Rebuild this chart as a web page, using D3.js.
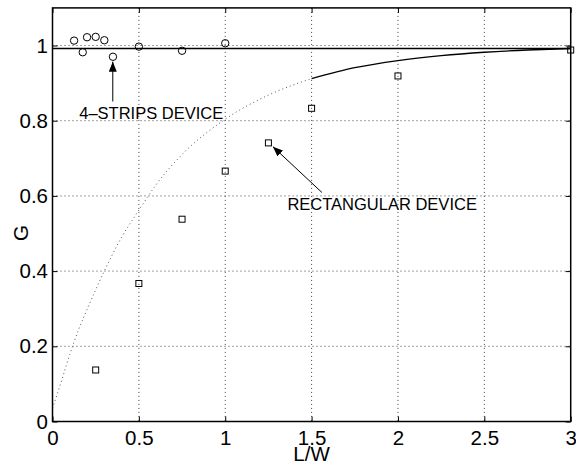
<!DOCTYPE html>
<html>
<head>
<meta charset="utf-8">
<script src="https://cdn.jsdelivr.net/npm/d3@7"></script>
<style>
  body { margin: 0; background: #fff; }
  text { font-family: "Liberation Sans", Arial, Helvetica, sans-serif; fill: #000; }
</style>
</head>
<body>
<div class="chart"></div>
<script>
let svgWidth = 576;
let svgHeight = 465;

let margin = { top: 7.9, right: 5.3, bottom: 43.5, left: 52.5 };
let width = svgWidth - margin.left - margin.right;
let height = svgHeight - margin.top - margin.bottom;

// data
let stripX = [0.125, 0.175, 0.2, 0.25, 0.3, 0.35, 0.5, 0.75, 1.0];
let stripG = [1.013, 0.982, 1.022, 1.023, 1.014, 0.970, 0.997, 0.986, 1.006];

let rectX = [0.25, 0.5, 0.75, 1.0, 1.25, 1.5, 2.0, 3.0];
let rectG = [0.137, 0.367, 0.538, 0.666, 0.741, 0.833, 0.919, 0.988];

let curveX = [0, 0.05, 0.1, 0.15, 0.2, 0.3, 0.4, 0.5, 0.6, 0.75, 1.0, 1.25, 1.5, 1.75, 2.0, 2.25, 2.5, 2.75, 3.0];
let curveG = [0.035, 0.105, 0.178, 0.243, 0.298, 0.40, 0.49, 0.562, 0.63, 0.71, 0.804, 0.868, 0.912, 0.941, 0.96, 0.973, 0.982, 0.988, 0.992];

let limitX = [0, 3];
let limitG = [0.992, 0.992];

let xTicks = [0, 0.5, 1, 1.5, 2, 2.5, 3];
let yTicks = [0, 0.2, 0.4, 0.6, 0.8, 1];

let svg = d3.select(".chart")
    .append("svg")
    .attr("width", svgWidth)
    .attr("height", svgHeight);

let chartGroup = svg.append("g")
    .attr("transform", `translate(${margin.left}, ${margin.top})`);

let x = d3.scaleLinear().domain([0, 3]).range([0, width]);
let y = d3.scaleLinear().domain([0, 1.1]).range([height, 0]);

// dotted grid
let grid = chartGroup.append("g")
    .attr("stroke", "#444")
    .attr("stroke-width", 1)
    .attr("stroke-dasharray", "1 3");

grid.selectAll(".gx")
    .data(xTicks.slice(1, -1))
    .enter()
    .append("line")
    .attr("x1", d => x(d)).attr("x2", d => x(d))
    .attr("y1", 0).attr("y2", height);

grid.selectAll(".gy")
    .data(yTicks.slice(1))
    .enter()
    .append("line")
    .attr("x1", 0).attr("x2", width)
    .attr("y1", d => y(d)).attr("y2", d => y(d));

// axes, ticks inward on all sides
let fontSize = "20.5px";

let bottomAxis = d3.axisBottom(x).tickValues(xTicks).tickFormat(String)
    .tickSizeInner(-5).tickSizeOuter(0).tickPadding(8.5);
let leftAxis = d3.axisLeft(y).tickValues(yTicks).tickFormat(String)
    .tickSizeInner(-5).tickSizeOuter(0).tickPadding(4.5);
let topAxis = d3.axisTop(x).tickValues(xTicks).tickFormat("")
    .tickSizeInner(-5).tickSizeOuter(0);
let rightAxis = d3.axisRight(y).tickValues(yTicks).tickFormat("")
    .tickSizeInner(-5).tickSizeOuter(0);

[[bottomAxis, height, 0], [leftAxis, 0, 0], [topAxis, 0, 0], [rightAxis, 0, width]].forEach(a => {
    let g = chartGroup.append("g")
        .attr("transform", `translate(${a[2]}, ${a[1]})`)
        .call(a[0]);
    g.select(".domain").remove();
    g.selectAll("line").attr("stroke", "#000");
    g.selectAll("text")
        .style("font-size", fontSize)
        .style("font-family", '"Liberation Sans", Arial, Helvetica, sans-serif');
});

// model curve: dotted part up to 1.5, solid after
let line = d3.line()
    .x(d => x(d[0]))
    .y(d => y(d[1]))
    .curve(d3.curveMonotoneX);

let curvePts = curveX.map((v, i) => [v, curveG[i]]);

chartGroup.append("path")
    .datum(curvePts.filter(d => d[0] <= 1.5))
    .attr("d", line)
    .attr("fill", "none")
    .attr("stroke", "#555")
    .attr("stroke-width", 1)
    .attr("stroke-dasharray", "1 3");

chartGroup.append("path")
    .datum(curvePts.filter(d => d[0] >= 1.5))
    .attr("d", line)
    .attr("fill", "none")
    .attr("stroke", "#000")
    .attr("stroke-width", 1.3);

chartGroup.append("path")
    .datum(limitX.map((v, i) => [v, limitG[i]]))
    .attr("d", d3.line().x(d => x(d[0])).y(d => y(d[1])))
    .attr("fill", "none")
    .attr("stroke", "#000")
    .attr("stroke-width", 1.3);

// markers
chartGroup.selectAll(".strip")
    .data(stripX.map((v, i) => [v, stripG[i]]))
    .enter()
    .append("circle")
    .attr("cx", d => x(d[0]))
    .attr("cy", d => y(d[1]))
    .attr("r", 3.7)
    .attr("fill", "none")
    .attr("stroke", "#000")
    .attr("stroke-width", 1);

chartGroup.selectAll(".rect")
    .data(rectX.map((v, i) => [v, rectG[i]]))
    .enter()
    .append("rect")
    .attr("x", d => x(d[0]) - 3)
    .attr("y", d => y(d[1]) - 3)
    .attr("width", 6)
    .attr("height", 6)
    .attr("fill", "none")
    .attr("stroke", "#000")
    .attr("stroke-width", 1);

// box
chartGroup.append("rect")
    .attr("width", width)
    .attr("height", height)
    .attr("fill", "none")
    .attr("stroke", "#000")
    .attr("stroke-width", 1.5);

// annotations
svg.append("defs").append("marker")
    .attr("id", "head")
    .attr("viewBox", "0 0 10 8")
    .attr("refX", 10).attr("refY", 4)
    .attr("markerWidth", 10).attr("markerHeight", 8)
    .attr("markerUnits", "userSpaceOnUse")
    .attr("orient", "auto")
    .append("path")
    .attr("d", "M0,0 L10,4 L0,8 Z")
    .attr("fill", "#000");

function arrow(x0, y0, x1, y1) {
    chartGroup.append("line")
        .attr("x1", x(x0)).attr("y1", y(y0))
        .attr("x2", x(x1)).attr("y2", y(y1))
        .attr("stroke", "#000")
        .attr("stroke-width", 1)
        .attr("marker-end", "url(#head)");
}

arrow(0.349, 0.851, 0.349, 0.957);
arrow(1.56, 0.609, 1.276, 0.731);

chartGroup.append("text")
    .attr("x", x(0.155))
    .attr("y", y(0.804))
    .style("font-size", "16.5px")
    .text("4\u2013STRIPS DEVICE");

chartGroup.append("text")
    .attr("x", x(1.36))
    .attr("y", y(0.563))
    .style("font-size", "16.5px")
    .text("RECTANGULAR DEVICE");

// axis titles
svg.append("text")
    .attr("x", margin.left + width / 2)
    .attr("y", 460.5)
    .attr("text-anchor", "middle")
    .style("font-size", fontSize)
    .text("L/W");

svg.append("text")
    .attr("transform", "translate(28, 233) rotate(-90)")
    .attr("text-anchor", "middle")
    .style("font-size", fontSize)
    .text("G");
</script>
</body>
</html>
